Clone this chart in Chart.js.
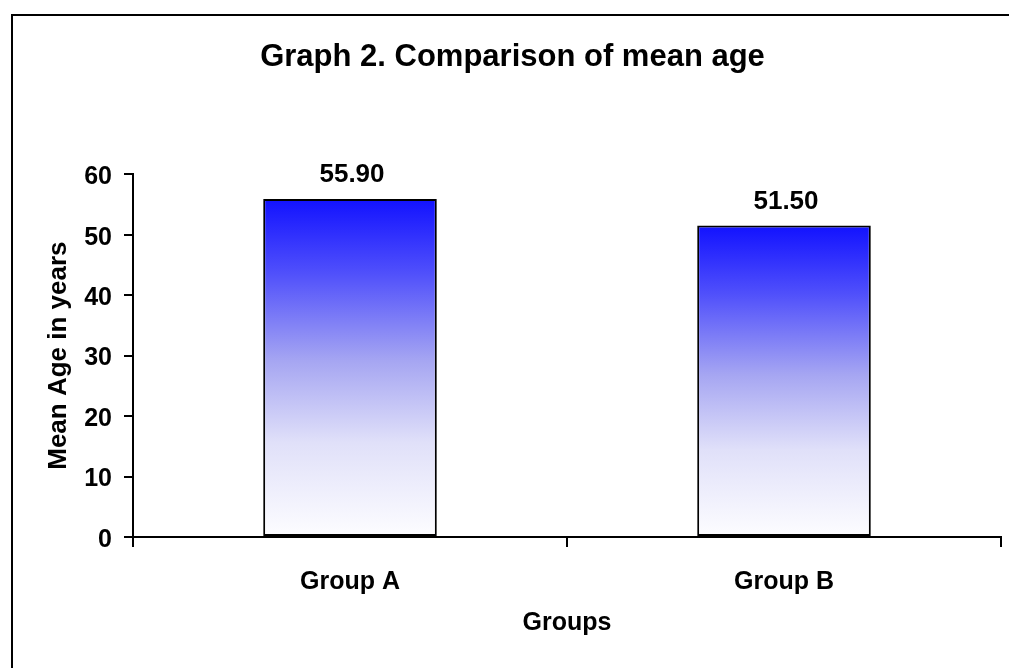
<!DOCTYPE html>
<html>
<head>
<meta charset="utf-8">
<script src="https://cdn.jsdelivr.net/npm/chart.js@4"></script>
<style>
  html, body { margin: 0; padding: 0; background: #ffffff; }
  #wrap { width: 1009px; height: 668px; position: relative; }
</style>
</head>
<body>
<div id="wrap"><canvas id="chart"></canvas></div>
<script>
// Mean age per group
const groups = ['Group A', 'Group B'];
const meanAge = [55.90, 51.50];
const yTicks = [0, 10, 20, 30, 40, 50, 60];

const FONT = '"Liberation Sans", Arial, Helvetica, sans-serif';

// Outer frame of the chart box
const framePlugin = {
  id: 'frame',
  beforeDraw(chart) {
    const ctx = chart.ctx;
    ctx.save();
    ctx.fillStyle = '#ffffff';
    ctx.fillRect(0, 0, chart.width, chart.height);
    ctx.strokeStyle = '#000000';
    ctx.lineWidth = 2;
    ctx.strokeRect(12, 15, chart.width + 40, chart.height + 40);
    ctx.restore();
  }
};

// Value printed above each bar
const valueLabels = {
  id: 'valueLabels',
  afterDatasetsDraw(chart) {
    const ctx = chart.ctx;
    const meta = chart.getDatasetMeta(0);
    ctx.save();
    ctx.font = 'bold 26px ' + FONT;
    ctx.fillStyle = '#000000';
    ctx.textAlign = 'center';
    ctx.textBaseline = 'alphabetic';
    meta.data.forEach((bar, i) => {
      ctx.fillText(meanAge[i].toFixed(2), bar.x + 2, bar.y - 17);
    });
    ctx.restore();
  }
};

// Blue-to-white vertical fill spanning each bar
function barFill(context) {
  const chart = context.chart;
  if (!chart.chartArea) return '#4040ff';
  const y = chart.scales.y;
  const top = y.getPixelForValue(context.raw);
  const bottom = y.getPixelForValue(0);
  const g = chart.ctx.createLinearGradient(0, top, 0, bottom);
  g.addColorStop(0, '#1212ff');
  g.addColorStop(0.22, '#5050fb');
  g.addColorStop(0.48, '#a6a6f2');
  g.addColorStop(0.72, '#e0e0f9');
  g.addColorStop(1, '#fdfdff');
  return g;
}

new Chart(document.getElementById('chart'), {
  type: 'bar',
  data: {
    labels: groups,
    datasets: [{
      data: meanAge,
      backgroundColor: barFill,
      borderColor: '#000000',
      borderWidth: 2,
      borderSkipped: false,
      categoryPercentage: 1.0,
      barPercentage: 0.4
    }]
  },
  plugins: [framePlugin, valueLabels],
  options: {
    responsive: true,
    maintainAspectRatio: false,
    animation: false,
    layout: { padding: { left: 24, right: 8, top: 0, bottom: 0 } },
    plugins: {
      legend: { display: false },
      tooltip: { enabled: false },
      title: {
        display: true,
        text: 'Graph 2. Comparison of mean age',
        color: '#000000',
        font: { family: FONT, size: 31, weight: 'bold', lineHeight: 1.2 },
        padding: { top: 39, bottom: 98 }
      }
    },
    scales: {
      x: {
        type: 'category',
        offset: true,
        afterFit(scale) { scale.height = 131; },
        grid: {
          offset: true,
          drawOnChartArea: false,
          drawTicks: true,
          tickLength: 10,
          color: '#000000',
          lineWidth: 2
        },
        border: { display: true, color: '#000000', width: 2 },
        ticks: {
          color: '#000000',
          padding: 20,
          maxRotation: 0,
          font: { family: FONT, size: 25, weight: 'bold' }
        },
        title: {
          display: true,
          text: 'Groups',
          color: '#000000',
          font: { family: FONT, size: 25, weight: 'bold', lineHeight: 1.2 },
          padding: { top: 0, bottom: 30 }
        }
      },
      y: {
        min: 0,
        max: 60,
        afterFit(scale) { scale.width = 109; },
        afterBuildTicks(scale) { scale.ticks = yTicks.map(v => ({ value: v })); },
        grid: {
          drawOnChartArea: false,
          drawTicks: true,
          tickLength: 9,
          color: '#000000',
          lineWidth: 2
        },
        border: { display: true, color: '#000000', width: 2 },
        ticks: {
          color: '#000000',
          padding: 12,
          labelOffset: 3,
          font: { family: FONT, size: 25, weight: 'bold' }
        },
        title: {
          display: true,
          text: 'Mean Age in years',
          color: '#000000',
          font: { family: FONT, size: 26, weight: 'bold', lineHeight: 1.2 },
          padding: { top: 19, bottom: 0 }
        }
      }
    }
  }
});
</script>
</body>
</html>
